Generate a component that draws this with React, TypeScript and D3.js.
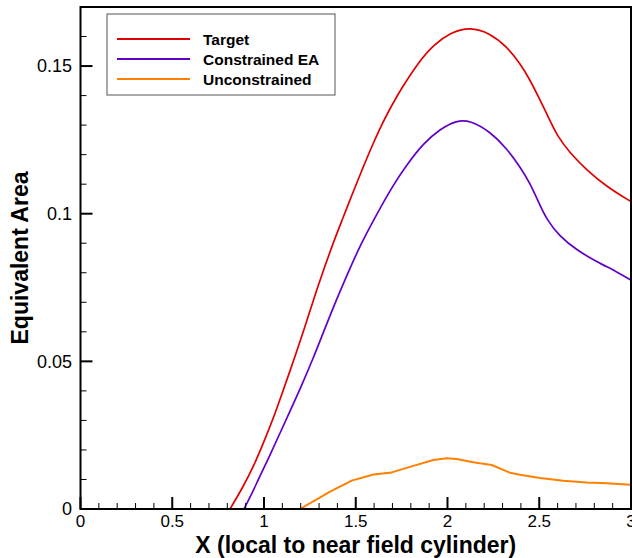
import React from "react";
import * as d3 from "d3";

const targetX = [0.815, 0.887, 0.942, 0.996, 1.051, 1.105, 1.169, 1.223, 1.278, 1.332, 1.378, 1.432, 1.478, 1.532, 1.587, 1.641, 1.696, 1.741, 1.85, 1.923, 2.014, 2.123, 2.232, 2.323, 2.395, 2.45, 2.504, 2.549, 2.595, 2.668, 2.759, 2.868, 3.0];
const targetY = [0, 0.0076, 0.0143, 0.0222, 0.0307, 0.0403, 0.0516, 0.0617, 0.0725, 0.0822, 0.0903, 0.0988, 0.1062, 0.1145, 0.1227, 0.1302, 0.1366, 0.1417, 0.152, 0.1571, 0.1613, 0.1633, 0.1611, 0.1566, 0.1509, 0.1453, 0.1385, 0.1328, 0.1266, 0.1205, 0.1148, 0.1091, 0.1041];

const constrainedX = [0.891, 0.93, 0.967, 1.027, 1.085, 1.143, 1.205, 1.269, 1.323, 1.378, 1.451, 1.523, 1.614, 1.705, 1.777, 1.868, 1.959, 2.05, 2.123, 2.232, 2.323, 2.395, 2.45, 2.495, 2.541, 2.613, 2.704, 2.813, 2.922, 3.0];
const constrainedY = [0, 0.0047, 0.0097, 0.0175, 0.0254, 0.0333, 0.0418, 0.0512, 0.0597, 0.0684, 0.079, 0.0892, 0.0998, 0.1098, 0.1165, 0.1238, 0.1287, 0.1316, 0.1316, 0.1278, 0.1221, 0.1159, 0.1103, 0.1041, 0.0979, 0.0922, 0.0877, 0.0837, 0.0804, 0.0775];

const unconstrainedX = [1.196, 1.36, 1.478, 1.596, 1.696, 1.814, 1.923, 1.996, 2.05, 2.14, 2.241, 2.34, 2.395, 2.504, 2.631, 2.759, 2.868, 3.0];
const unconstrainedY = [0, 0.0059, 0.0096, 0.0117, 0.0124, 0.0146, 0.0166, 0.0172, 0.0169, 0.0158, 0.0149, 0.0123, 0.0116, 0.0105, 0.0096, 0.009, 0.0087, 0.0082];

const xTicks = [0, 0.5, 1, 1.5, 2, 2.5, 3];
const xTickLabels = ["0", "0.5", "1", "1.5", "2", "2.5", "3"];
const yTicks = [0, 0.05, 0.1, 0.15];
const yTickLabels = ["0", "0.05", "0.1", "0.15"];
const seriesNames = ["Target", "Constrained EA", "Unconstrained"];
const seriesColors = ["#e00000", "#6200c8", "#ff8000"];

const W = 632;
const H = 558;
const left = 80.5;
const right = 631;
const top = 7;
const bottom = 509;

export default function App() {
  const x = d3.scaleLinear().domain([0, 3]).range([left, right]);
  const y = d3.scaleLinear().domain([0, 0.17]).range([bottom, top]);

  const mk = (xs: number[], ys: number[]) => xs.map((v, i) => [v, ys[i]] as [number, number]);
  const smooth = d3.line<[number, number]>().x((d) => x(d[0])).y((d) => y(d[1])).curve(d3.curveBasis);
  const lin = d3.line<[number, number]>().x((d) => x(d[0])).y((d) => y(d[1]));

  const paths = [
    smooth(mk(targetX, targetY)),
    smooth(mk(constrainedX, constrainedY)),
    lin(mk(unconstrainedX, unconstrainedY)),
  ];

  const xMinor = d3.range(0, 31).map((i) => i / 10).filter((v) => Math.abs(v * 2 - Math.round(v * 2)) > 1e-6);
  const yMinor = d3.range(0, 18).map((i) => i / 100).filter((v) => Math.abs(v * 20 - Math.round(v * 20)) > 1e-6);

  const font = "'Liberation Sans', Arial, Helvetica, sans-serif";

  return (
    <svg width={W} height={H} style={{ position: "absolute", left: 0, top: 0, background: "#fff" }} fontFamily={font}>
      <defs>
        <clipPath id="plotclip">
          <rect x={left} y={top} width={right - left} height={bottom - top} />
        </clipPath>
      </defs>
      <rect x={0} y={0} width={W} height={H} fill="#fff" />
      <g clipPath="url(#plotclip)">
        {paths.map((p, i) => (
          <path key={i} d={p || ""} fill="none" stroke={seriesColors[i]} strokeWidth={i === 2 ? 2 : 1.7} strokeLinejoin="round" />
        ))}
      </g>
      {xTicks.map((t) => (
        <line key={"xt" + t} x1={x(t)} x2={x(t)} y1={bottom} y2={bottom - 12} stroke="#000" strokeWidth={2} />
      ))}
      {xMinor.map((t) => (
        <line key={"xm" + t} x1={x(t)} x2={x(t)} y1={bottom} y2={bottom - 6} stroke="#000" strokeWidth={1} />
      ))}
      {yTicks.map((t) => (
        <line key={"yt" + t} x1={left} x2={left + 12} y1={y(t)} y2={y(t)} stroke="#000" strokeWidth={2} />
      ))}
      {yMinor.map((t) => (
        <line key={"ym" + t} x1={left} x2={left + 6} y1={y(t)} y2={y(t)} stroke="#000" strokeWidth={1} />
      ))}
      <rect x={left} y={top} width={right - left} height={bottom - top} fill="none" stroke="#000" strokeWidth={2} />
      {xTicks.map((t, i) => (
        <text key={"xl" + t} x={x(t)} y={527} textAnchor="middle" fontSize={17} fill="#000">
          {xTickLabels[i]}
        </text>
      ))}
      {yTicks.map((t, i) => (
        <text key={"yl" + t} x={72} y={y(t)} dy="0.35em" textAnchor="end" fontSize={18} fill="#000">
          {yTickLabels[i]}
        </text>
      ))}
      <text x={(left + right) / 2} y={553} textAnchor="middle" fontSize={23} fontWeight="bold" fill="#000">
        X (local to near field cylinder)
      </text>
      <text transform={`translate(28,${(top + bottom) / 2}) rotate(-90)`} textAnchor="middle" fontSize={23} fontWeight="bold" fill="#000">
        Equivalent Area
      </text>
      <rect x={107} y={14} width={228} height={81} fill="#fff" stroke="#555" strokeWidth={1} />
      {seriesNames.map((n, i) => (
        <g key={n}>
          <line x1={117} x2={190} y1={39 + i * 20} y2={39 + i * 20} stroke={seriesColors[i]} strokeWidth={2} />
          <text x={203} y={39 + i * 20} dy="0.36em" fontSize={15.5} fontWeight="bold" fill="#000">
            {n}
          </text>
        </g>
      ))}
    </svg>
  );
}
